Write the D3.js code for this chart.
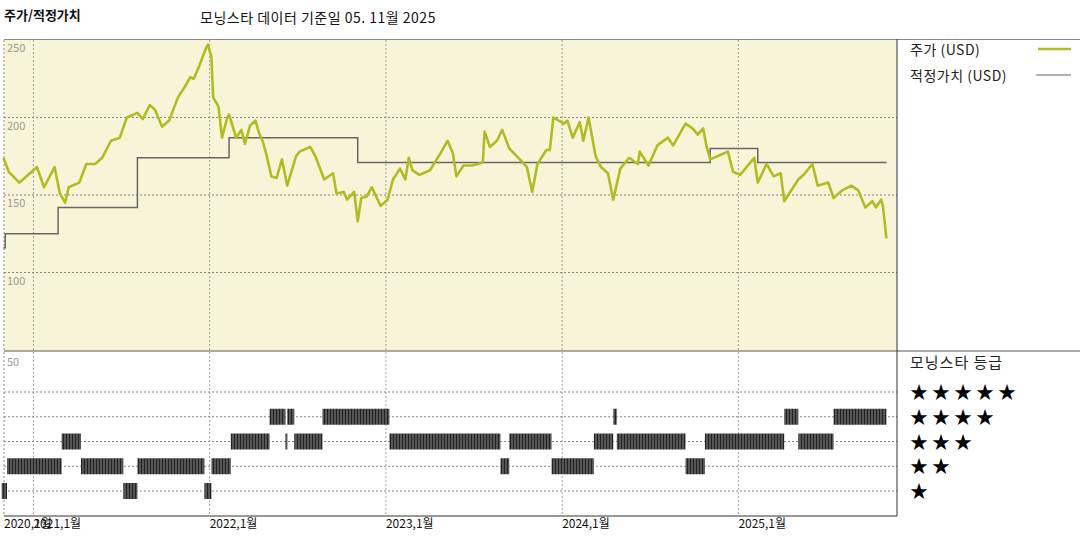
<!DOCTYPE html>
<html><head><meta charset="utf-8">
<script src="https://cdn.jsdelivr.net/npm/d3@7"></script>
<style>body{margin:0;background:#fff}svg{display:block}text{font-family:"Noto Sans CJK KR","DejaVu Sans",sans-serif}</style>
</head><body><svg id="c" width="1080" height="540"></svg>
<script>
// decimal-year time values and prices (USD)
const priceT = [2020.83,2020.86,2020.92,2020.96,2021.02,2021.06,2021.12,2021.15,2021.18,2021.20,2021.26,2021.30,2021.35,2021.39,2021.44,2021.49,2021.53,2021.59,2021.62,2021.66,2021.69,2021.73,2021.77,2021.82,2021.86,2021.89,2021.91,2021.94,2021.98,2021.99,2022.01,2022.02,2022.05,2022.07,2022.10,2022.11,2022.15,2022.18,2022.20,2022.23,2022.26,2022.28,2022.30,2022.32,2022.35,2022.38,2022.41,2022.44,2022.49,2022.51,2022.57,2022.60,2022.65,2022.70,2022.72,2022.76,2022.78,2022.82,2022.84,2022.86,2022.89,2022.92,2022.97,2023.01,2023.04,2023.08,2023.11,2023.13,2023.15,2023.19,2023.25,2023.31,2023.35,2023.38,2023.40,2023.44,2023.49,2023.55,2023.56,2023.59,2023.63,2023.66,2023.70,2023.76,2023.80,2023.83,2023.86,2023.91,2023.93,2023.95,2024.01,2024.03,2024.06,2024.10,2024.12,2024.15,2024.19,2024.22,2024.26,2024.29,2024.33,2024.38,2024.43,2024.44,2024.49,2024.54,2024.60,2024.63,2024.70,2024.74,2024.77,2024.80,2024.82,2024.84,2024.90,2024.94,2024.97,2025.01,2025.09,2025.11,2025.16,2025.20,2025.24,2025.26,2025.34,2025.37,2025.42,2025.45,2025.51,2025.54,2025.59,2025.64,2025.68,2025.72,2025.76,2025.78,2025.81,2025.82,2025.84];
const priceV = [174,165,158,162,168,155,168,151,145,155,158,170,170,174,185,187,200,203,199,208,205,194,198,213,220,226,225,233,245,247,239,213,207,187,200,202,187,192,183,195,198,190,185,177,162,161,173,156,175,178,181,175,160,164,151,152,147,152,133,148,149,155,143,147,160,167,160,174,166,163,166,177,185,177,162,169,169,171,191,181,185,192,180,173,168,152,170,179,179,200,196,198,187,197,185,200,175,168,164,147,167,174,170,178,169,182,187,182,196,193,189,193,181,173,176,178,165,163,174,158,170,162,164,146,160,163,170,156,158,148,153,156,153,142,146,142,147,143,122];
const fairT = [2020.83,2020.84,2021.14,2021.59,2022.11,2022.84,2024.84,2025.11,2025.84];
const fairV = [116,125,142,174,187,171,180,171,171];
const ratingStart = [2020.82,2020.85,2021.16,2021.27,2021.51,2021.59,2021.97,2022.01,2022.12,2022.34,2022.43,2022.44,2022.48,2022.64,2023.02,2023.65,2023.70,2023.94,2024.18,2024.29,2024.31,2024.70,2024.81,2025.26,2025.34,2025.54];
const ratingEnd   = [2020.85,2021.16,2021.27,2021.51,2021.59,2021.97,2022.01,2022.12,2022.34,2022.43,2022.44,2022.48,2022.64,2023.02,2023.65,2023.70,2023.94,2024.18,2024.29,2024.31,2024.70,2024.81,2025.26,2025.34,2025.54,2025.84];
const ratingStars = [1,2,3,2,1,2,1,2,3,4,3,4,3,4,3,2,3,2,3,4,3,2,3,4,3,4];
const priceTicks = [250,200,150,100];
const yearTicks = [2020,2021,2022,2023,2024,2025];
const yearTickT = [2020.833,2021,2022,2023,2024,2025];
const starLevels = [5,4,3,2,1];

const svg = d3.select("#c");
const x = d3.scaleLinear().domain([2020.833, 2025.90]).range([4, 897]);
const y = d3.scaleLinear().domain([50, 250]).range([350, 40]);
const yr = d3.scaleLinear().domain([5, 1]).range([392, 491]);

const defs = svg.append("defs");
const pat = defs.append("pattern").attr("id","stripe").attr("width",3).attr("height",20).attr("patternUnits","userSpaceOnUse");
pat.append("rect").attr("width",3).attr("height",20).attr("fill","#555");
pat.append("rect").attr("width",1).attr("height",20).attr("fill","#222");

svg.append("rect").attr("x",4).attr("y",40).attr("width",893).attr("height",311).attr("fill","#f8f4d8");

const dash = "2,2";
svg.selectAll(".hg").data(priceTicks.slice(1)).join("line")
  .attr("x1",4).attr("x2",897).attr("y1",d=>y(d)).attr("y2",d=>y(d))
  .attr("stroke","#666").attr("stroke-dasharray",dash).attr("stroke-width",0.8);
svg.selectAll(".rg").data(starLevels).join("line")
  .attr("x1",4).attr("x2",897).attr("y1",d=>yr(d)).attr("y2",d=>yr(d))
  .attr("stroke","#666").attr("stroke-dasharray",dash).attr("stroke-width",0.8);
svg.selectAll(".vg").data(yearTickT.slice(1)).join("line")
  .attr("x1",d=>x(d)).attr("x2",d=>x(d)).attr("y1",40).attr("y2",516)
  .attr("stroke","#888").attr("stroke-dasharray",dash).attr("stroke-width",0.8);
svg.append("line").attr("x1",4).attr("x2",4).attr("y1",40).attr("y2",516).attr("stroke","#888").attr("stroke-dasharray",dash);

svg.selectAll(".yl").data(priceTicks).join("text")
  .attr("x",7).attr("y",d=>y(d)+12).text(d=>d).attr("font-size",11).attr("fill","#999");
svg.append("text").attr("x",7).attr("y",y(50)+16).text("50").attr("font-size",11).attr("fill","#999");

svg.append("path").datum(fairT.map((t,i)=>[t,fairV[i]]))
  .attr("d",d3.line().x(d=>x(d[0])).y(d=>y(d[1])).curve(d3.curveStepAfter))
  .attr("fill","none").attr("stroke","#666").attr("stroke-width",1.5);
svg.append("path").datum(priceT.map((t,i)=>[t,priceV[i]]))
  .attr("d",d3.line().x(d=>x(d[0])).y(d=>y(d[1])))
  .attr("fill","none").attr("stroke","#b3bb22").attr("stroke-width",2.6).attr("stroke-linejoin","round");

svg.selectAll(".rb").data(ratingStars).join("rect")
  .attr("x",(d,i)=>x(ratingStart[i])).attr("width",(d,i)=>Math.max(2,x(ratingEnd[i])-x(ratingStart[i])))
  .attr("y",d=>yr(d)-8).attr("height",16).attr("fill","url(#stripe)");

svg.append("line").attr("x1",4).attr("x2",1080).attr("y1",39.5).attr("y2",39.5).attr("stroke","#888");
svg.append("line").attr("x1",4).attr("x2",1080).attr("y1",351).attr("y2",351).attr("stroke","#555");
svg.append("line").attr("x1",897).attr("x2",897).attr("y1",39).attr("y2",516).attr("stroke","#333");
svg.append("line").attr("x1",4).attr("x2",897).attr("y1",516).attr("y2",516).attr("stroke","#333");

svg.selectAll(".xl").data(yearTicks).join("text")
  .attr("x",(d,i)=>x(yearTickT[i])).attr("y",528).text(d=>d+",1월")
  .attr("font-size",12).attr("fill","#111");

svg.append("text").attr("x",4).attr("y",20).text("주가/적정가치").attr("font-size",13).attr("font-weight","bold").attr("fill","#111");
svg.append("text").attr("x",200).attr("y",23).text("모닝스타 데이터 기준일 05. 11월 2025").attr("font-size",14).attr("letter-spacing",0.5).attr("fill","#111");

svg.append("text").attr("x",910).attr("y",55).text("주가 (USD)").attr("font-size",14).attr("letter-spacing",0.5).attr("fill","#222");
svg.append("line").attr("x1",1038).attr("x2",1071).attr("y1",49).attr("y2",49).attr("stroke","#b3bb22").attr("stroke-width",2.5);
svg.append("text").attr("x",910).attr("y",81).text("적정가치 (USD)").attr("font-size",14).attr("letter-spacing",0.5).attr("fill","#222");
svg.append("line").attr("x1",1036).attr("x2",1071).attr("y1",75).attr("y2",75).attr("stroke","#666").attr("stroke-width",1.2);
svg.append("text").attr("x",910).attr("y",368).text("모닝스타 등급").attr("font-size",15).attr("letter-spacing",1).attr("fill","#222");
svg.selectAll(".st").data(starLevels).join("text")
  .attr("x",910).attr("y",d=>yr(d)+7).text(d=>"★".repeat(d))
  .attr("font-size",18).attr("font-family","DejaVu Sans").attr("fill","#000").attr("letter-spacing",4);
</script></body></html>
